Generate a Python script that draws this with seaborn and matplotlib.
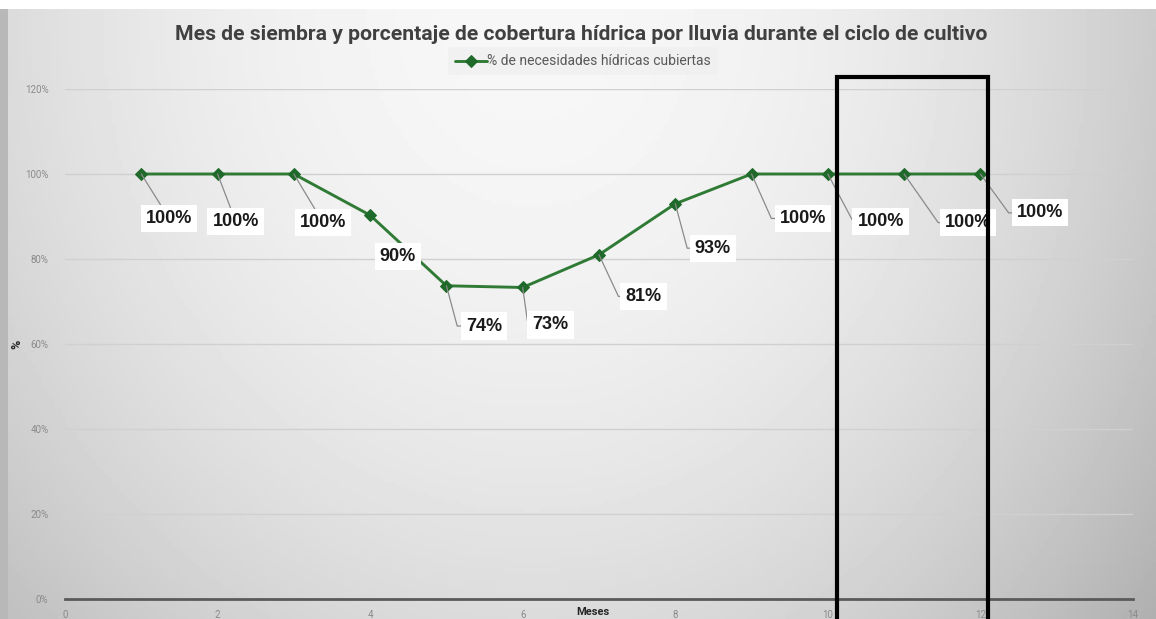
import numpy as np
import pandas as pd
import matplotlib
matplotlib.use("Agg")
import matplotlib.pyplot as plt
import seaborn as sns
from matplotlib.patches import Rectangle
from matplotlib.ticker import PercentFormatter

# datos
meses = [1, 2, 3, 4, 5, 6, 7, 8, 9, 10, 11, 12]
cobertura = [1.00, 1.00, 1.00, 0.903, 0.737, 0.733, 0.81, 0.93, 1.00, 1.00, 1.00, 1.00]
etiquetas = ["100%", "100%", "100%", "90%", "74%", "73%", "81%", "93%",
             "100%", "100%", "100%", "100%"]
serie = "% de necesidades hídricas cubiertas"
titulo = "Mes de siembra y porcentaje de cobertura hídrica por lluvia durante el ciclo de cultivo"

df = pd.DataFrame({"Meses": meses, "cobertura": cobertura, "serie": serie})

# posicion de cada etiqueta respecto a su punto (en puntos) y forma de la guia
offsets = [(20, -32), (13, -34), (21, -35), (20, -30), (27, -29), (20, -27),
           (32, -30), (27, -32), (37, -32), (38, -34), (46, -35), (43, -28)]
guias = [None, None, None, "sin", -75, -82, -65, -75, -66, -62, -55, -54]

sns.set_style("white")
plt.rcParams['font.family'] = ['Roboto', 'DejaVu Sans']

fig = plt.figure(figsize=(11.56, 6.19), dpi=100)
fig.patch.set_facecolor("white")

# fondo degradado gris
bg = fig.add_axes([0, 0, 1, 1 - 9 / 619])
gx, gy = np.meshgrid(np.linspace(0, 1, 300), np.linspace(0, 1, 160))
r = np.sqrt(((gx - 0.5) / 0.6) ** 2 + ((gy - 1.0) / 1.25) ** 2)
gris = np.clip(0.975 - 0.17 * r ** 2 - 0.06 * gx ** 3, 0, 1)
gris[:, :2] = 0.72
bg.imshow(gris, cmap="gray", vmin=0, vmax=1, aspect="auto", origin="lower",
          extent=[0, 1, 0, 1])
bg.axis("off")

ax = fig.add_axes([65 / 1156, 20 / 619, (1133 - 65) / 1156, (599 - 89) / 619])
ax.set_facecolor("none")

sns.lineplot(data=df, x="Meses", y="cobertura", hue="serie", ax=ax,
             palette=["#2f7a35"], marker="D", markersize=6,
             markerfacecolor="#1f6a2a", markeredgecolor="#1f6a2a",
             linewidth=2.1, zorder=5)

ax.set_xlim(0, 14)
ax.set_ylim(0, 1.2)
ax.set_xticks(range(0, 15, 2))
ax.set_yticks(np.arange(0, 1.21, 0.2))
ax.yaxis.set_major_formatter(PercentFormatter(1.0, decimals=0))
ax.tick_params(axis="both", labelsize=7, colors="#8a8a8a", length=0)
ax.tick_params(axis="x", pad=8)
ax.tick_params(axis="y", pad=12)
for s in ["top", "right", "left"]:
    ax.spines[s].set_visible(False)
ax.spines["bottom"].set_color("#5a5a5a")
ax.spines["bottom"].set_linewidth(2)
ax.grid(axis="y", color="#d0d0d0", linewidth=1)
ax.set_axisbelow(True)

ax.set_xlabel("Meses", fontsize=8, fontweight="bold", color="#262626", va="center")
ax.xaxis.set_label_coords(0.494, -0.0255)
ax.set_ylabel("%", fontsize=9, fontweight="bold", color="#262626", va="center")
ax.yaxis.set_label_coords(-48 / 1068, 0.50)

for mx, cy, lab, off, g in zip(meses, cobertura, etiquetas, offsets, guias):
    if g == "sin":
        flecha = None
    elif g is None:
        flecha = dict(arrowstyle="-", color="#8a8a8a", lw=0.9, shrinkA=0, shrinkB=0)
    else:
        flecha = dict(arrowstyle="-", color="#8a8a8a", lw=0.9, shrinkA=0, shrinkB=0,
                      connectionstyle=f"angle,angleA=0,angleB={g},rad=0")
    ax.annotate(lab, xy=(mx, cy), xytext=off, textcoords="offset points",
                ha="center", va="center", fontsize=13, fontweight="bold",
                family=["Liberation Sans", "DejaVu Sans"],
                color="#1a1a1a", zorder=6,
                bbox=dict(boxstyle="square,pad=0.28", fc="white", ec="none"),
                arrowprops=flecha)

leg = ax.legend(loc="upper center", bbox_to_anchor=(0.485, 1.095), frameon=True,
                fontsize=10, handlelength=2.3, handletextpad=0.05, borderpad=0.5)
leg.get_frame().set_facecolor("#efefef")
leg.get_frame().set_edgecolor("none")
leg.get_frame().set_alpha(0.7)
for t in leg.get_texts():
    t.set_color("#595959")

fig.text(0.503, 1 - 34 / 619, titulo, ha="center", va="center", fontsize=15.2,
         fontweight="bold", color="#404040")

# recuadro negro de resaltado
fig.add_artist(Rectangle((837 / 1156, -0.02), (988 - 837) / 1156, (619 - 77) / 619 + 0.02,
                         transform=fig.transFigure, fill=False, ec="black", lw=3,
                         zorder=10))

fig.savefig("out.png", dpi=100)
